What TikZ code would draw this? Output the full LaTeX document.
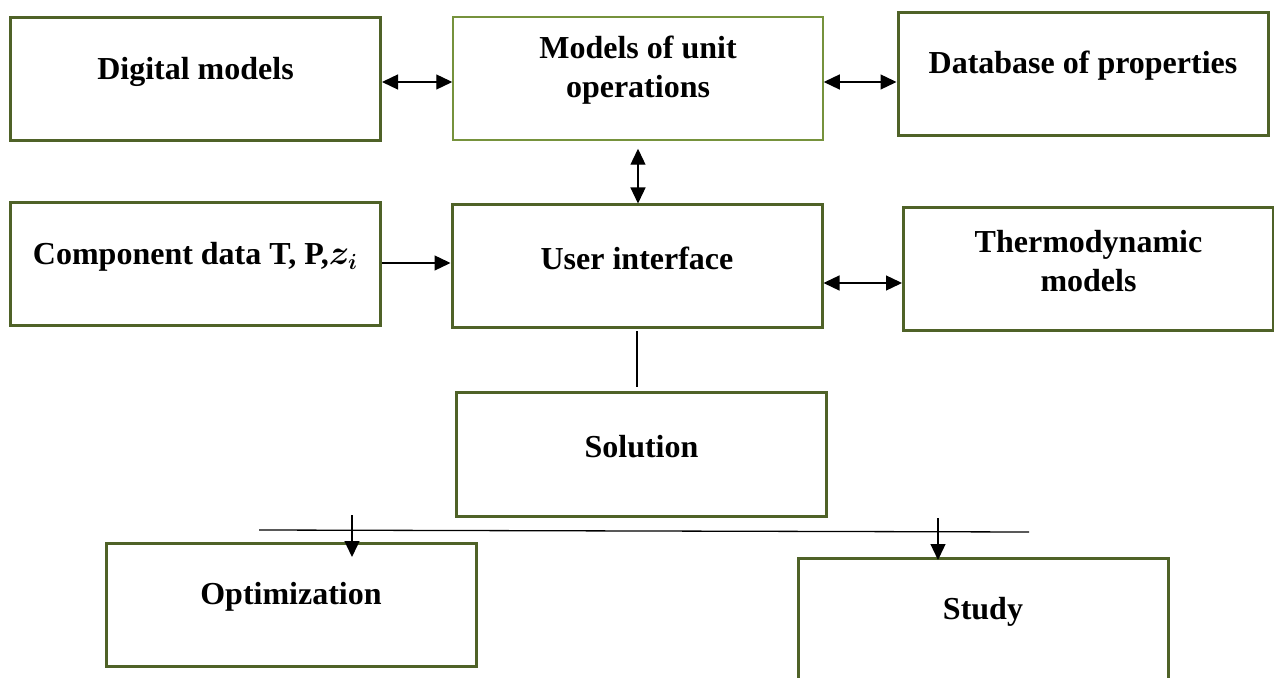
\documentclass[tikz,border=0pt]{standalone}
\usepackage{amsmath}
\usepackage{fontspec}
\setmainfont{Liberation Serif}
\usetikzlibrary{arrows.meta,calc}

\definecolor{boxgreen}{RGB}{79,98,40}
\definecolor{palegreen}{RGB}{118,146,60}

\tikzset{
  box/.style={draw=boxgreen,line width=1.5pt,minimum width=185pt,minimum height=61.5pt,inner sep=0pt},
  txt/.style={font=\bfseries\fontsize{16pt}{19.5pt}\selectfont,align=center,yshift=4pt},
}

\begin{document}
\begin{tikzpicture}[x=0.5pt,y=-0.5pt,line width=0.65pt,>={Triangle[length=8pt,width=7.5pt]}]
  \useasboundingbox (0,0) rectangle (1274,678);

  \node[box,label={[txt]center:Digital models}] (dm) at (195.5,79.5) {};
  \node[box,draw=palegreen,line width=0.75pt,label={[txt]center:Models of unit\\operations}] (units) at (638,78.5) {};
  \node[box,label={[txt]center:Database of properties}] (data) at (1083,74) {};

  \node[box,label={[txt]center:{Component data T, P,$\boldsymbol{z_i}$}}] (comp) at (195.5,264.5) {};
  \node[box,label={[txt]center:User interface}] (ui) at (637,266.5) {};
  \node[box,label={[txt]center:Thermodynamic\\models}] (thermo) at (1088.5,269.5) {};

  \node[box,label={[txt]center:Solution}] (sol) at (641.5,454.5) {};
  \node[box,label={[txt]center:Optimization}] (opt) at (291,605) {};
  \node[box,label={[txt]center:Study}] (study) at (983,620) {};

  \draw[<->] ([yshift=-1.25pt]dm.east) -- ([yshift=-1.25pt]dm.east -| units.west);
  \draw[<->] ([yshift=-1.75pt]units.east) -- ([yshift=-1.75pt]units.east -| data.west);
  \draw[<->] ([yshift=-4pt]units.south) -- (units.south |- ui.north);
  \draw[->] ([yshift=0.75pt]comp.east) -- ([yshift=0.75pt]comp.east -| ui.west);
  \draw[<->] ([yshift=-8.25pt]ui.east) -- ([yshift=-8.25pt]ui.east -| thermo.west);
  \draw ([yshift=-1pt]ui.south) -- ([yshift=2pt]ui.south |- sol.north);

  % branch to the two results
  \coordinate (busL) at (259,530);
  \coordinate (busR) at (1029,532);
  \draw (busL) -- (busR);
  \coordinate (tapL) at (352,515);
  \coordinate (tapR) at (938,518);
  \draw[->] (tapL) -- ([yshift=-7.5pt]tapL |- opt.north);
  \draw[->] (tapR) -- ([yshift=-1.5pt]tapR |- study.north);
\end{tikzpicture}
\end{document}
